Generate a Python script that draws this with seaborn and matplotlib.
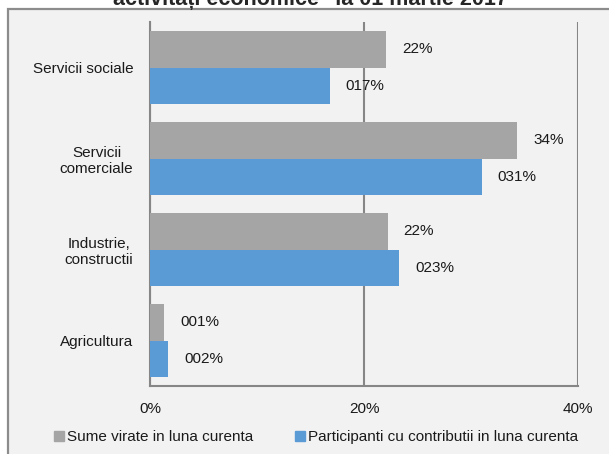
import matplotlib
matplotlib.use("Agg")
import matplotlib.pyplot as plt
import seaborn as sns
import pandas as pd
from matplotlib.patches import Rectangle
from matplotlib.lines import Line2D

# Date (procente)
categories = ["Servicii sociale", "Servicii\ncomerciale", "Industrie,\nconstructii", "Agricultura"]
series = ["Sume virate in luna curenta", "Participanti cu contributii in luna curenta"]
sume_virate = [22.1, 34.3, 22.2, 1.3]
participanti = [16.8, 31.0, 23.3, 1.7]
labels_sume = ["22%", "34%", "22%", "001%"]
labels_part = ["017%", "031%", "023%", "002%"]
xticks = [0, 20, 40]
xtick_labels = ["0%", "20%", "40%"]
colors = ["#A5A5A5", "#5B9BD5"]
title = "activitați economice\" la 01 martie 2017"

df = pd.DataFrame({
    "categorie": categories * 2,
    "serie": [series[0]] * len(categories) + [series[1]] * len(categories),
    "valoare": sume_virate + participanti,
})

sns.set_style("white")
plt.rcParams["font.family"] = ["Liberation Sans", "DejaVu Sans"]
fs = 11
axis_col = "#868686"
text_col = "#1a1a1a"

fig = plt.figure(figsize=(6.09, 4.54), dpi=100)
fig.patch.set_facecolor("white")
# cadrul gri al graficului (taiat sus)
fig.add_artist(Rectangle((8 / 609, -0.05), 1.1, 1 - 9.5 / 454 + 0.05, transform=fig.transFigure,
                         fc="#F2F2F2", ec="#8C8C8C", lw=1.6, zorder=-1))

ax = fig.add_axes([150 / 609, 1 - 386 / 454, 428 / 609, 364 / 454])
ax.set_facecolor("none")

sns.barplot(data=df, y="categorie", x="valoare", hue="serie", palette=colors, orient="h",
            ax=ax, width=0.8, linewidth=0, saturation=1, legend=False, zorder=3)

ax.set_xlim(0, 40)
ax.set_ylim(3.5, -0.5)
ax.set_xlabel("")
ax.set_ylabel("")

# grila si axe
ax.set_xticks(xticks)
ax.set_xticklabels(xtick_labels, fontsize=fs)
ax.xaxis.grid(True, color=axis_col, lw=1.5, zorder=0)
ax.set_axisbelow(True)
for side in ["top", "right"]:
    ax.spines[side].set_visible(False)
for side in ["left", "bottom"]:
    ax.spines[side].set_color(axis_col)
    ax.spines[side].set_linewidth(1.5)
ax.tick_params(axis="x", direction="out", length=3.6, width=1.5, color=axis_col, pad=8, labelcolor=text_col)

ax.set_yticks(range(len(categories)))
ax.set_yticklabels(categories, fontsize=fs, multialignment="center", color=text_col)
ax.set_yticks([i - 0.5 for i in range(len(categories) + 1)], minor=True)
ax.tick_params(axis="y", which="major", length=0, pad=12)
ax.tick_params(axis="y", which="minor", direction="out", length=3.6, width=1.5, color=axis_col)

# etichete de date
ax.bar_label(ax.containers[0], labels=labels_sume, padding=11.5, fontsize=fs, color=text_col)
ax.bar_label(ax.containers[1], labels=labels_part, padding=11.5, fontsize=fs, color=text_col)

# legenda jos
handles = [Line2D([], [], marker="s", ls="", color=c, markersize=6.5) for c in colors]
fig.legend(handles, series, loc="center left", bbox_to_anchor=(53.6 / 609, 1 - 437 / 454), ncol=2,
           frameon=False, fontsize=fs, handlelength=0.7, handletextpad=0.17, columnspacing=2.7,
           borderaxespad=0, borderpad=0, labelcolor=text_col)

# titlul (doar partea de jos e vizibila)
fig.text(310 / 609, 1 - 5 / 454, title, ha="center", va="baseline", fontsize=15.5, fontweight="bold")

fig.savefig("out.png", dpi=100)
